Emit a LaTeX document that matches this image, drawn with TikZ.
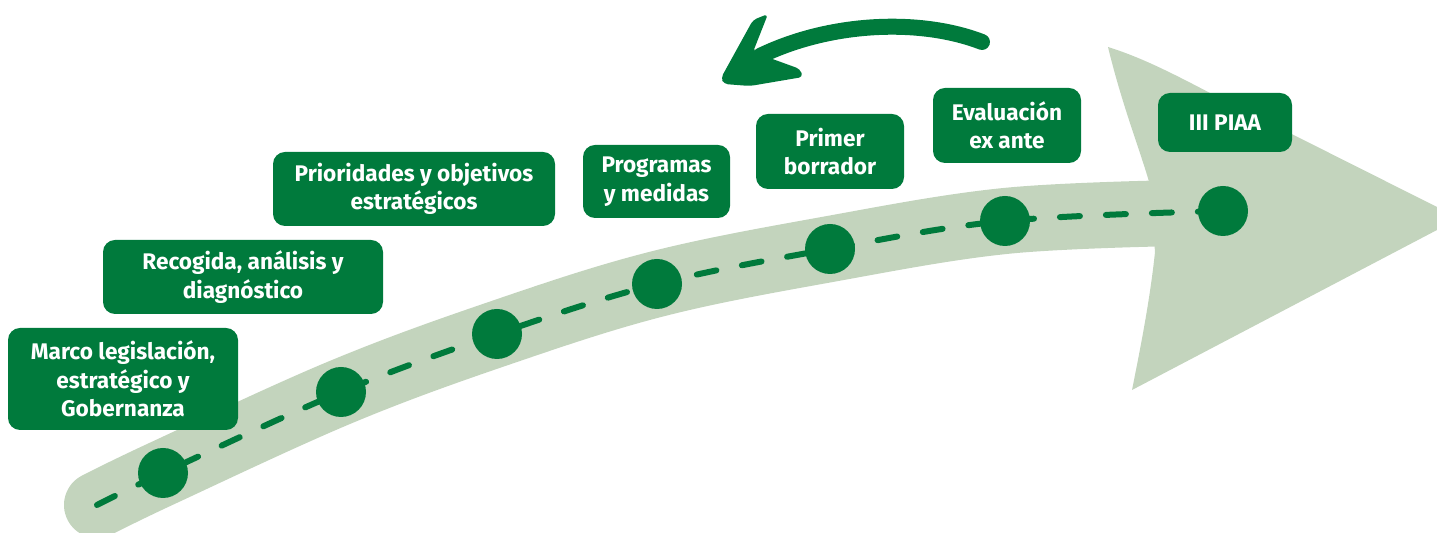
\documentclass[tikz,border=0pt]{standalone}
\usepackage{fontspec}
\setmainfont{Fira Sans}
\definecolor{dkgreen}{HTML}{007A3C}
\definecolor{ltgreen}{HTML}{C3D4BD}
\tikzset{
  stage/.style={fill=dkgreen, rounded corners=6pt, text=white, font=\bfseries\fontsize{11.3pt}{14.2pt}\selectfont,
    align=center, inner sep=0pt},
  dot/.style={circle, fill=dkgreen, minimum size=25pt, inner sep=0pt},
  band/.style={line width=33pt, ltgreen, line cap=round},
  dashline/.style={line width=3pt, dkgreen, line cap=round, dash pattern=on 10pt off 13pt},
}
\begin{document}
\begin{tikzpicture}[x=0.5pt,y=-0.5pt]
\useasboundingbox (0,0) rectangle (1437,533);
% coordinates
\coordinate (s) at (97,505);
\coordinate (p1) at (163,473);
\coordinate (p2) at (341,392);
\coordinate (p3) at (497,334);
\coordinate (p4) at (657,284);
\coordinate (p5) at (830,249);
\coordinate (p6) at (1005,221);
\coordinate (p7) at (1223,211);
% band
\draw[band] plot[smooth, tension=0.6] coordinates {(s) (p1) (p2) (p3) (p4) (p5) (p6) (1180,213)};
% arrowhead
\fill[ltgreen] (1108,47) .. controls (1122,105) and (1140,150) .. (1150,185)
  -- (1155,252) .. controls (1150,300) and (1140,350) .. (1132,390)
  -- (1437,230) .. controls (1441,222) and (1441,214) .. (1437,207)
  -- (1210,93) .. controls (1170,72) and (1140,57) .. cycle;
% dashes
\draw[dashline] plot[smooth, tension=0.6] coordinates {(s) (p1) (p2) (p3) (p4) (p5) (p6) (p7)};
% dots
\foreach \i in {1,...,7} \node[dot] (d\i) at (p\i) {};
% boxes
\node[stage, minimum width=115pt, minimum height=51pt] (b1) at (123,379) {Marco legislación,\\estratégico y\\Gobernanza};
\node[stage, minimum width=140pt, minimum height=37pt] (b2) at (243,277) {Recogida, análisis y\\diagnóstico};
\node[stage, minimum width=141pt, minimum height=37pt] (b3) at (414,189) {Prioridades y objetivos\\estratégicos};
\node[stage, minimum width=73.5pt, minimum height=36.5pt] (b4) at (656.5,181.5) {Programas\\y medidas};
\node[stage, minimum width=74pt, minimum height=37.5pt] (b5) at (830,151.5) {Primer\\borrador};
\node[stage, minimum width=74pt, minimum height=37.5pt] (b6) at (1007,125.5) {Evaluación\\ex ante};
\node[stage, minimum width=67pt, minimum height=29.5pt] (b7) at (1225,122.5) {III PIAA};
% top return arrow
\draw[dkgreen, line width=8pt, line cap=round] (982,42) .. controls (920,18) and (830,22) .. (760,56);
\fill[dkgreen, rounded corners=2pt] (753,20) -- (768,14) -- (753,52) -- (778,61) -- (800,69) -- (803,77)
  -- (750,86) -- (724,84) -- (721,78) -- cycle;
\end{tikzpicture}
\end{document}
